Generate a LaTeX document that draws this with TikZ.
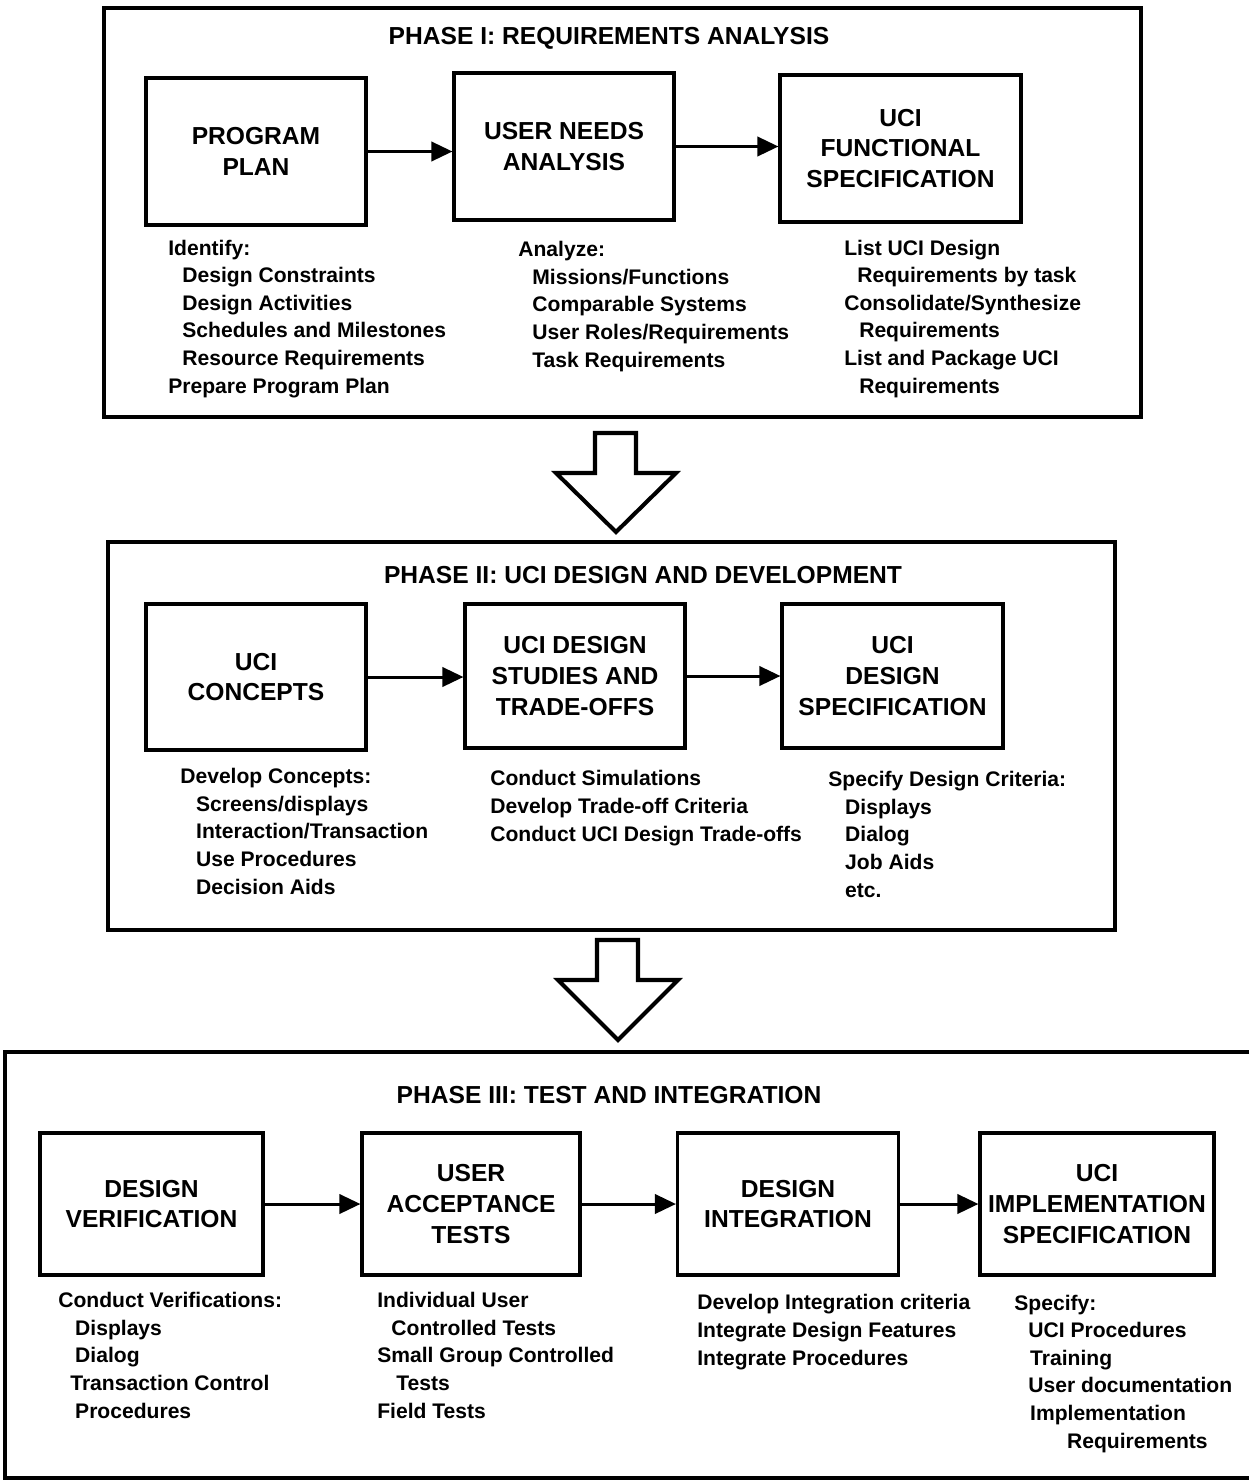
\documentclass[tikz,border=0pt]{standalone}
\usepackage{fontspec}
\setmainfont{Liberation Sans}
\usetikzlibrary{arrows.meta}
\begin{document}
\begin{tikzpicture}[x=0.02cm,y=-0.02cm,
 frame/.style={line width=2.5pt},
 box/.style={draw,line width=1.8pt,align=center,font=\fontsize{14}{17.5}\selectfont\bfseries,inner sep=0pt},
 ttl/.style={font=\fontsize{14}{16}\selectfont\bfseries,inner sep=0pt},
 desc/.style={anchor=base west,align=left,font=\fontsize{12}{15.7}\selectfont\bfseries,inner sep=0pt},
 arr/.style={line width=1.7pt,-{Triangle[length=12pt,width=11pt]}},
 hollow/.style={line width=2.3pt,line join=miter,fill=white}]
\useasboundingbox (0,0) rectangle (1249,1484);

% ---------- Phase I ----------
\draw[frame] (104,8) rectangle (1141,417);
\node[ttl] (t1) at (609,38) {PHASE I: REQUIREMENTS ANALYSIS};
\node[box,minimum width=4.4cm,minimum height=2.94cm] (pp) at (256,151.5) {PROGRAM\\PLAN};
\node[box,minimum width=4.4cm,minimum height=2.94cm] (un) at (564,146.5) {USER NEEDS\\ANALYSIS};
\node[box,minimum width=4.82cm,minimum height=2.94cm] (uf) at (900.5,148.5) {UCI\\FUNCTIONAL\\SPECIFICATION};
\draw[arr] (pp.east) -- (pp.east -| un.west);
\draw[arr] (un.east) -- (un.east -| uf.west);
\node[desc] (d11) at (168,393) {Identify:\\
\hspace*{8pt}Design Constraints\\
\hspace*{8pt}Design Activities\\
\hspace*{8pt}Schedules and Milestones\\
\hspace*{8pt}Resource Requirements\\
Prepare Program Plan};
\node[desc] (d12) at (518,367) {Analyze:\\
\hspace*{8pt}Missions/Functions\\
\hspace*{8pt}Comparable Systems\\
\hspace*{8pt}User Roles/Requirements\\
\hspace*{8pt}Task Requirements};
\node[desc] (d13) at (844,393) {List UCI Design\\
\hspace*{7.4pt}Requirements by task\\
Consolidate/Synthesize\\
\hspace*{8.5pt}Requirements\\
List and Package UCI\\
\hspace*{8.5pt}Requirements};

% ---------- hollow arrow 1 ----------
\draw[hollow] (595,433) -- (636,433) -- (636,473) -- (676,473) -- (616,532) -- (556,473) -- (595,473) -- cycle;

% ---------- Phase II ----------
\draw[frame] (108,542) rectangle (1115,930);
\node[ttl] (t2) at (643,575) {PHASE II: UCI DESIGN AND DEVELOPMENT};
\node[box,minimum width=4.4cm,minimum height=2.92cm] (uc) at (256,677) {UCI\\CONCEPTS};
\node[box,minimum width=4.4cm,minimum height=2.88cm] (ds) at (575,676) {UCI DESIGN\\STUDIES AND\\TRADE-OFFS};
\node[box,minimum width=4.42cm,minimum height=2.88cm] (dsp) at (892.5,676) {UCI\\DESIGN\\SPECIFICATION};
\draw[arr] (uc.east) -- (uc.east -| ds.west);
\draw[arr] (ds.east) -- (ds.east -| dsp.west);
\node[desc] (d21) at (180,894) {Develop Concepts:\\
\hspace*{9pt}Screens/displays\\
\hspace*{9pt}Interaction/Transaction\\
\hspace*{9pt}Use Procedures\\
\hspace*{9pt}Decision Aids};
\node[desc] (d22) at (490,841) {Conduct Simulations\\
Develop Trade-off Criteria\\
Conduct UCI Design Trade-offs};
\node[desc] (d23) at (828,897) {Specify Design Criteria:\\
\hspace*{9.6pt}Displays\\
\hspace*{9.6pt}Dialog\\
\hspace*{9.6pt}Job Aids\\
\hspace*{9.6pt}etc.};

% ---------- hollow arrow 2 ----------
\draw[hollow] (597,940) -- (638,940) -- (638,980) -- (678,980) -- (618,1040) -- (558,980) -- (597,980) -- cycle;

% ---------- Phase III ----------
\draw[frame] (1249,1052) -- (5,1052) -- (5,1478) -- (1249,1478);
\node[ttl] (t3) at (609,1095) {PHASE III: TEST AND INTEGRATION};
\node[box,minimum width=4.46cm,minimum height=2.84cm] (dv) at (151.5,1204) {DESIGN\\VERIFICATION};
\node[box,minimum width=4.36cm,minimum height=2.84cm] (uat) at (471,1204) {USER\\ACCEPTANCE\\TESTS};
\node[box,minimum width=4.42cm,minimum height=2.84cm] (di) at (788,1204) {DESIGN\\INTEGRATION};
\node[box,minimum width=4.68cm,minimum height=2.84cm] (im) at (1097,1204) {UCI\\IMPLEMENTATION\\SPECIFICATION};
\draw[arr] (dv.east) -- (uat.west);
\draw[arr] (uat.east) -- (di.west);
\draw[arr] (di.east) -- (im.west);
\node[desc] (d31) at (58,1418) {Conduct Verifications:\\
\hspace*{9.6pt}Displays\\
\hspace*{9.6pt}Dialog\\
\hspace*{6.8pt}Transaction Control\\
\hspace*{9.6pt}Procedures};
\node[desc] (d32) at (377,1418) {Individual User\\
\hspace*{8pt}Controlled Tests\\
Small Group Controlled\\
\hspace*{10.8pt}Tests\\
Field Tests};
\node[desc] (d33) at (697,1365) {Develop Integration criteria\\
Integrate Design Features\\
Integrate Procedures};
\node[desc] (d34) at (1014,1448) {Specify:\\
\hspace*{8pt}UCI Procedures\\
\hspace*{9pt}Training\\
\hspace*{8pt}User documentation\\
\hspace*{9pt}Implementation\\
\hspace*{30pt}Requirements};
\end{tikzpicture}
\end{document}
